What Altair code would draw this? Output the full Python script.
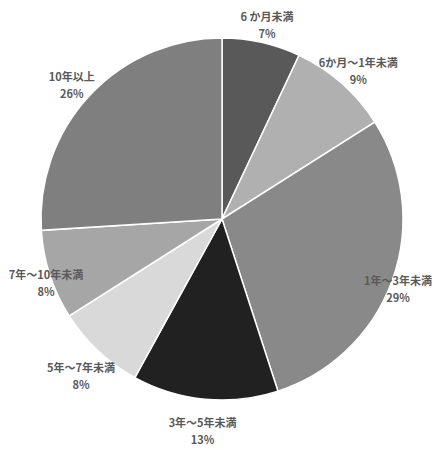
import altair as alt
import pandas as pd

categories = ["6 か月未満", "6か月～1年未満", "1年～3年未満", "3年～5年未満",
              "5年～7年未満", "7年～10年未満", "10年以上"]
values = [7, 9, 29, 13, 8, 8, 26]
colors = ["#595959", "#b0b0b0", "#898989", "#212121", "#d9d9d9", "#a6a6a6", "#7f7f7f"]

df = pd.DataFrame({
    "idx": list(range(len(categories))),
    "category": categories,
    "value": values,
})
df["label"] = df["category"] + "\n" + df["value"].astype(str) + "%"

arcs = alt.Chart(df).mark_arc(outerRadius=181, stroke="white", strokeWidth=1.5).encode(
    theta=alt.Theta("value:Q", stack=True),
    order=alt.Order("idx:Q"),
    color=alt.Color("category:N", scale=alt.Scale(domain=categories, range=colors), legend=None),
)

# labels placed at each slice's mid angle, kept inside the view horizontally
labels = alt.Chart(df).transform_window(
    cum="sum(value)", sort=[alt.SortField("idx")], frame=[None, 0]
).transform_joinaggregate(
    total="sum(value)"
).transform_calculate(
    mid="2*PI*(datum.cum - datum.value/2)/datum.total"
).transform_calculate(
    lr="min(206, (width/2 - 38)/max(0.001, abs(sin(datum.mid))))"
).transform_calculate(
    lx="width/2 + datum.lr*sin(datum.mid)",
    ly="height/2 - datum.lr*cos(datum.mid)",
).mark_text(
    fontSize=11, fontWeight="bold", font="Noto Sans CJK JP",
    color="#595959", lineBreak="\n", lineHeight=17, align="center", baseline="middle"
).encode(
    text="label:N",
    x=alt.X("lx:Q", scale=None),
    y=alt.Y("ly:Q", scale=None),
)

chart = alt.layer(arcs, labels).properties(
    width=428, height=410,
    autosize=alt.AutoSizeParams(type="none"),
    padding={"left": 0, "top": 6, "right": 0, "bottom": 26},
).configure_view(stroke=None)

chart.save("out.html", embed_options={"renderer": "svg", "actions": False})
